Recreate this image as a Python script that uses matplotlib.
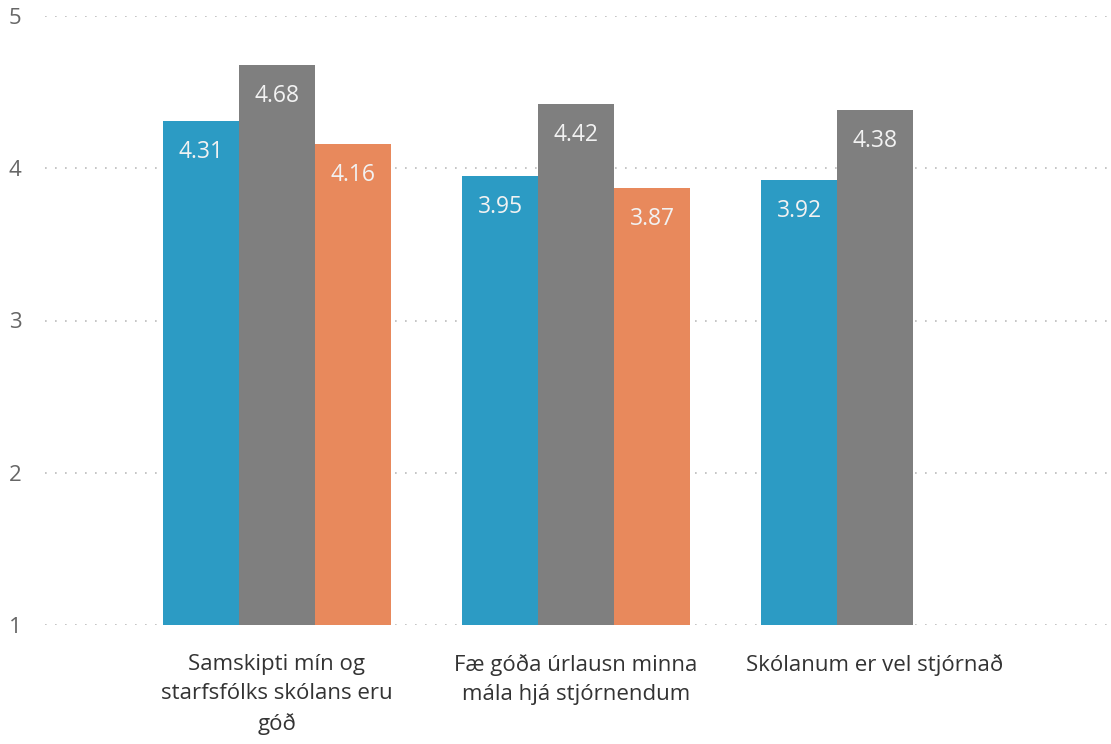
import numpy as np
import matplotlib.pyplot as plt

# Data
categories = ['Samskipti mín og\nstarfsfólks skólans eru\ngóð',
              'Fæ góða úrlausn minna\nmála hjá stjórnendum',
              'Skólanum er vel stjórnað']
series_a = [4.31, 3.95, 3.92]
series_b = [4.68, 4.42, 4.38]
series_c = [4.16, 3.87, None]
colors = ['#2C9BC4', '#7F7F7F', '#E8895C']

plt.rcParams['font.family'] = ['Open Sans', 'DejaVu Sans']

fig = plt.figure(figsize=(11.11, 7.44), dpi=100)
ax = fig.add_axes([45 / 1111, (744 - 625) / 744, 1 - 45 / 1111, (625 - 16) / 744])

x = np.arange(len(categories))
width = 0.254

for i, (vals, col) in enumerate(zip([series_a, series_b, series_c], colors)):
    xs = [xi + (i - 1) * width for xi, v in zip(x, vals) if v is not None]
    vs = [v for v in vals if v is not None]
    bars = ax.bar(xs, [v - 1 for v in vs], width, bottom=1, color=col, zorder=2)
    for b, v in zip(bars, vs):
        ax.annotate(f'{v:.2f}', (b.get_x() + b.get_width() / 2, v),
                    xytext=(0, -31), textcoords='offset pixels',
                    ha='center', va='center', color='#F2F2F2', fontsize=16.5)

ax.set_ylim(1, 5)
ax.set_xlim((45 - 277) / 299, (1111 - 277) / 299)
ax.set_yticks([1, 2, 3, 4, 5])
ax.set_xticks(x)
ax.set_xticklabels(categories, fontsize=16, color='#333333', linespacing=1.5)
ax.tick_params(axis='y', labelsize=16, labelcolor='#666666', length=0, pad=17)
ax.tick_params(axis='x', length=0, pad=21)

ax.grid(axis='y', linestyle=(0, (1, 5)), color='#BBBBBB', linewidth=1.2, zorder=0)
for s in ax.spines.values():
    s.set_visible(False)

fig.savefig('out.png', dpi=100)
